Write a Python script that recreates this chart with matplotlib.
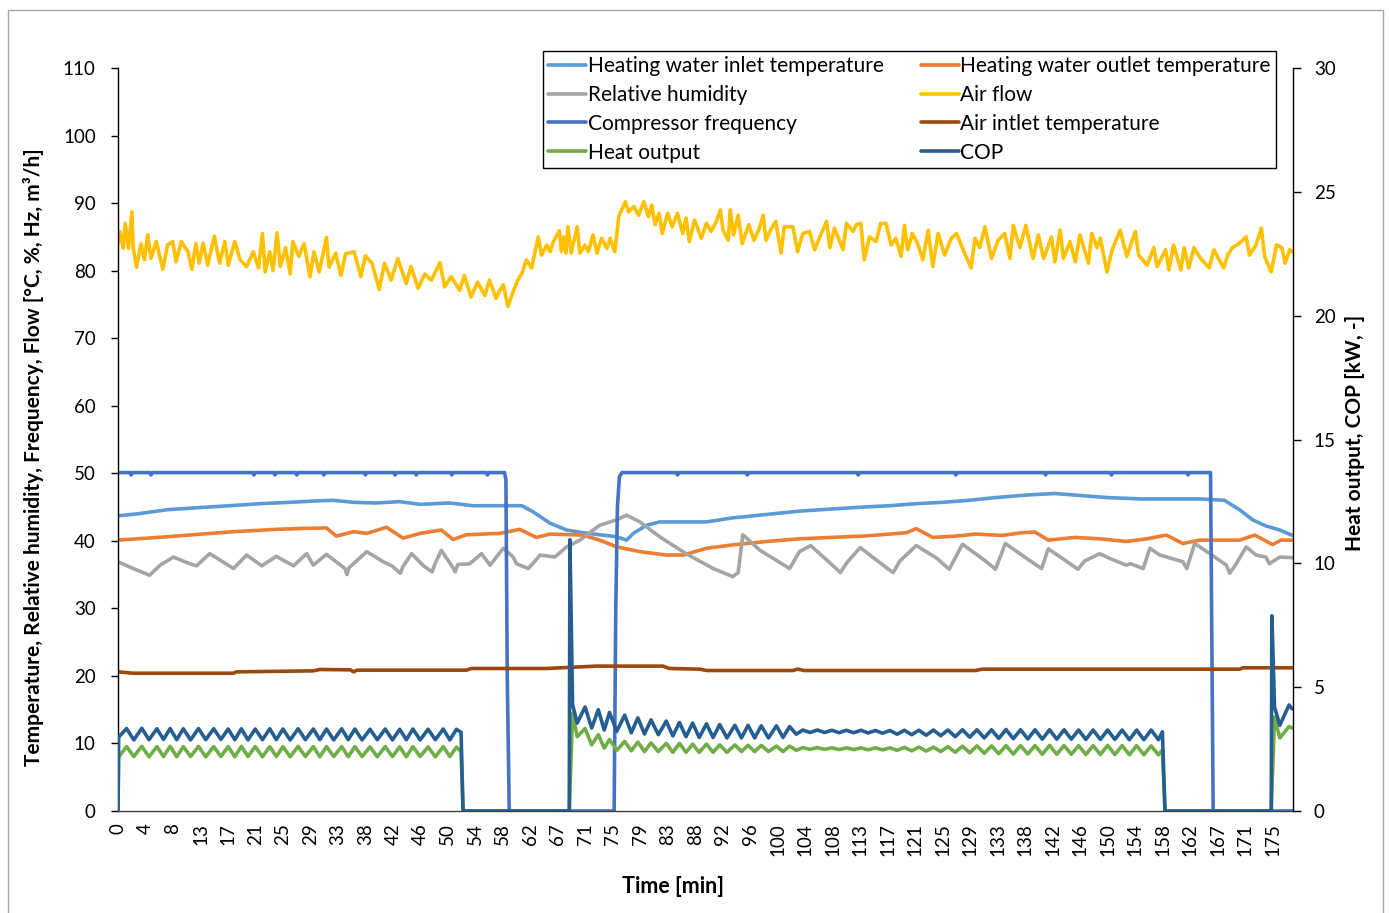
import numpy as np
import matplotlib
matplotlib.use("Agg")
import matplotlib.pyplot as plt
from matplotlib.patches import Rectangle

plt.rcParams['font.family'] = ['Lato', 'DejaVu Sans']

# ---------------- data (time in minutes) ----------------
x_tick_labels = ["0", "4", "8", "13", "17", "21", "25", "29", "33", "38", "42", "46", "50",
                 "54", "58", "62", "67", "71", "75", "79", "83", "88", "92", "96", "100",
                 "104", "108", "113", "117", "121", "125", "129", "133", "138", "142", "146",
                 "150", "154", "158", "162", "167", "171", "175"]

inlet = [(0, 43.7), (3, 44.0), (7.4, 44.6), (12, 44.9), (17, 45.2), (21.5, 45.5), (26, 45.7),
         (30, 45.9), (32.6, 46.0), (35.7, 45.7), (39, 45.6), (42.7, 45.8), (45.8, 45.4),
         (48, 45.5), (50.3, 45.6), (53.8, 45.2), (58, 45.2), (61.2, 45.2), (62.9, 44.3),
         (65.5, 42.6), (68, 41.6), (70.5, 41.2), (73, 40.9), (75.6, 40.6), (77.1, 40.1),
         (78.1, 41.1), (80.1, 42.3), (82.1, 42.8), (89.2, 42.8), (93.2, 43.4), (98.3, 43.9),
         (103.3, 44.4), (108, 44.7), (113, 45.0), (117, 45.2), (121, 45.5), (125, 45.7),
         (129, 46.0), (133, 46.4), (138, 46.8), (142, 47.0), (146, 46.7), (150, 46.4),
         (155, 46.2), (160, 46.2), (164, 46.2), (167.7, 46.0), (170, 44.6), (172, 43.1),
         (174, 42.2), (176.1, 41.6), (178, 40.8)]

outlet = [(0, 40.1), (7.4, 40.6), (17.5, 41.35), (24, 41.7), (28.6, 41.85), (31.6, 41.9),
          (33.1, 40.7), (35.7, 41.35), (37.7, 41.1), (40.7, 42.0), (43.2, 40.4), (45.8, 41.1),
          (49.0, 41.6), (50.8, 40.2), (52.8, 40.9), (57.9, 41.1), (60.9, 41.7), (63.4, 40.5),
          (65.5, 41.0), (70.5, 40.85), (73.0, 40.1), (75.6, 39.1), (79.1, 38.4), (83.1, 37.9),
          (85.7, 37.9), (89.2, 38.9), (93.2, 39.4), (98.3, 39.9), (103.3, 40.3), (108, 40.5),
          (113, 40.7), (117, 41.0), (119.5, 41.2), (121.0, 41.8), (123.5, 40.5), (127, 40.7),
          (130, 41.0), (134, 40.8), (137, 41.2), (139, 41.3), (141, 40.1), (145, 40.5),
          (148.8, 40.3), (152.8, 39.9), (156, 40.3), (158.9, 40.85), (161.4, 39.6),
          (163.9, 40.1), (170, 40.1), (172.3, 40.85), (175, 39.45), (176.3, 40.1), (178, 40.1)]

humidity = [(0, 36.9), (2.3, 35.9), (4.8, 34.9), (6.4, 36.4), (8.4, 37.6), (10.9, 36.6),
            (11.9, 36.3), (13.9, 38.1), (17.5, 35.9), (19.5, 37.9), (21.8, 36.3), (24.0, 37.7),
            (26.6, 36.3), (28.6, 38.1), (29.6, 36.4), (31.6, 38.0), (34.4, 35.9), (34.7, 35.0),
            (35.0, 36.0), (37.7, 38.4), (40.2, 36.9), (41.5, 36.3), (42.8, 35.2), (43.2, 36.2),
            (44.5, 38.1), (46.3, 36.3), (47.6, 35.4), (48.0, 36.5), (49.0, 38.6), (50.8, 36.0),
            (51.1, 35.4), (51.5, 36.5), (53.3, 36.6), (55.1, 38.1), (56.4, 36.4), (58.4, 38.9),
            (59.9, 37.6), (60.4, 36.6), (62.2, 35.9), (64.0, 37.9), (66.2, 37.6), (68.0, 39.1),
            (70.0, 40.1), (73.0, 42.3), (75.6, 43.1), (77.1, 43.8), (79.1, 42.8), (82.1, 40.6),
            (86.1, 38.1), (90.2, 35.9), (93.2, 34.7), (94.0, 35.3), (94.7, 40.9), (97.3, 38.6),
            (101.8, 35.9), (103.3, 38.4), (105.0, 39.3), (108.5, 36.2), (109.5, 35.3),
            (110.5, 36.8), (112.5, 39.0), (116.5, 36.0), (117.5, 35.3), (118.5, 37.0),
            (121.0, 39.3), (124.0, 37.5), (126.0, 35.8), (128.0, 39.5), (131.5, 37.0),
            (133.0, 35.8), (134.5, 39.6), (138.0, 37.2), (140.0, 35.9), (141.0, 38.8),
            (143.0, 37.5), (145.5, 35.8), (146.5, 37.0), (148.8, 38.1), (150.3, 37.4),
            (152.8, 36.4), (153.5, 36.6), (155.4, 35.9), (156.4, 38.9), (157.9, 37.9),
            (161.4, 36.9), (162.0, 35.9), (163.2, 39.6), (165.5, 38.1), (168.0, 36.4),
            (168.5, 35.2), (169.5, 36.6), (171.0, 39.1), (172.5, 37.9), (174.0, 37.6),
            (174.5, 36.6), (176.1, 37.6), (178.0, 37.5)]

airflow = [(0.0, 84.0), (0.3, 85.8), (0.8, 83.3), (1.1, 87.0), (1.6, 83.3), (2.1, 88.7),
           (2.3, 83.4), (2.8, 80.5), (3.5, 84.0), (4.0, 81.6), (4.5, 85.3), (5.0, 81.8),
           (5.8, 84.3), (6.8, 80.2), (7.5, 83.8), (8.3, 84.3), (8.8, 81.3), (9.6, 84.3),
           (10.6, 82.8), (11.2, 80.2), (11.8, 84.0), (12.3, 81.1), (12.9, 84.1), (13.6, 80.8),
           (14.6, 85.1), (15.4, 81.1), (16.2, 84.3), (16.7, 80.8), (17.7, 84.3), (18.5, 81.6),
           (19.5, 80.6), (20.5, 82.8), (21.3, 80.4), (21.9, 85.5), (22.3, 79.8), (23.0, 82.8),
           (23.5, 80.0), (24.1, 85.6), (24.6, 80.6), (25.4, 83.4), (26.1, 79.5), (26.5, 84.3),
           (27.4, 82.1), (28.2, 84.0), (29.1, 79.1), (29.7, 82.8), (30.5, 79.8), (31.6, 84.9),
           (32.0, 80.5), (33.0, 82.6), (33.8, 79.3), (34.5, 82.5), (35.8, 82.8), (36.8, 79.1),
           (37.5, 82.2), (38.5, 81.1), (39.6, 77.2), (40.4, 81.1), (41.4, 78.6), (42.4, 81.8),
           (43.7, 78.1), (44.4, 80.6), (45.5, 77.4), (46.5, 79.5), (47.5, 78.6), (48.8, 81.2),
           (49.5, 77.6), (50.5, 79.1), (51.8, 77.1), (52.5, 79.3), (53.5, 76.1), (54.5, 78.3),
           (55.6, 76.3), (56.3, 78.6), (57.3, 75.9), (57.9, 77.1), (58.4, 77.9), (59.1, 74.7),
           (59.6, 76.1), (60.1, 77.4), (60.6, 78.6), (61.2, 79.5), (61.9, 81.6), (62.7, 80.4),
           (63.2, 82.8), (63.7, 85.0), (64.2, 82.3), (65.0, 83.8), (65.5, 82.8), (66.0, 84.3),
           (66.9, 85.9), (67.2, 82.8), (67.6, 85.0), (67.9, 82.6), (68.2, 86.5), (68.7, 82.6),
           (69.6, 86.5), (70.0, 82.6), (70.8, 83.8), (71.3, 82.8), (72.0, 85.3), (72.6, 82.6),
           (73.3, 84.8), (74.1, 83.3), (74.6, 84.8), (75.3, 82.8), (75.9, 88.0), (76.9, 90.2),
           (77.4, 88.7), (78.2, 89.5), (78.9, 88.2), (79.7, 90.2), (80.4, 88.0), (80.9, 89.7),
           (81.4, 86.8), (82.0, 88.5), (82.5, 85.5), (83.3, 88.5), (84.0, 86.5), (84.8, 88.5),
           (85.6, 85.5), (86.1, 87.8), (86.6, 84.3), (87.4, 87.5), (88.4, 84.8), (89.2, 87.0),
           (89.9, 85.8), (90.7, 87.3), (91.3, 89.0), (91.7, 86.0), (92.5, 84.5), (92.8, 89.0),
           (93.3, 85.3), (94.0, 88.2), (94.6, 84.0), (95.6, 86.8), (96.4, 84.5), (97.1, 86.0),
           (97.8, 88.2), (98.2, 84.5), (98.9, 86.0), (99.7, 87.3), (100.5, 82.6), (101.0, 86.5),
           (102.3, 86.5), (103.0, 82.8), (103.8, 85.5), (104.8, 85.8), (105.6, 83.1),
           (106.6, 85.5), (107.4, 87.3), (107.9, 83.4), (108.6, 86.3), (109.9, 83.1),
           (110.4, 87.0), (111.4, 85.8), (111.9, 86.8), (112.6, 87.0), (113.1, 81.6),
           (113.9, 85.0), (114.9, 84.3), (115.6, 87.0), (116.4, 87.0), (117.2, 83.8),
           (117.9, 84.8), (118.7, 82.1), (119.2, 86.7), (119.7, 83.1), (120.4, 85.5),
           (121.2, 84.0), (122.0, 81.6), (122.8, 86.0), (123.5, 80.6), (124.3, 85.5),
           (125.3, 82.3), (126.3, 84.8), (127.1, 85.5), (128.1, 83.1), (129.3, 80.4),
           (129.9, 84.8), (130.6, 83.4), (131.4, 86.5), (132.4, 81.8), (133.4, 84.5),
           (134.4, 85.5), (135.2, 81.8), (135.7, 86.7), (136.7, 83.4), (137.6, 86.7),
           (138.7, 81.8), (139.5, 85.3), (140.3, 81.8), (141.5, 85.0), (142.0, 81.3),
           (142.8, 86.0), (143.3, 81.8), (144.3, 84.3), (145.1, 81.3), (145.8, 85.3),
           (147.1, 81.1), (147.6, 85.5), (148.4, 83.4), (148.9, 84.8), (149.9, 79.8),
           (150.7, 83.1), (151.9, 86.0), (152.9, 82.1), (154.2, 85.8), (154.7, 82.3),
           (156.0, 80.8), (157.0, 83.4), (157.5, 80.6), (158.8, 83.1), (159.3, 80.1),
           (160.0, 83.8), (161.1, 80.1), (161.6, 83.4), (162.3, 80.4), (163.1, 83.4),
           (164.1, 81.8), (165.4, 80.4), (166.1, 83.1), (166.9, 81.6), (167.6, 80.4),
           (168.2, 82.3), (168.9, 83.4), (169.9, 84.0), (171.0, 85.0), (171.5, 82.3),
           (172.5, 83.8), (173.3, 86.3), (173.8, 82.1), (174.8, 79.8), (175.6, 83.8),
           (176.4, 83.4), (176.9, 81.1), (177.6, 83.1), (178.0, 82.8)]

compressor = [(0, 50.1), (1.8, 50.1), (2.0, 49.75), (2.2, 50.1), (4.8, 50.1), (5.0, 49.75),
              (5.2, 50.1), (20.4, 50.1), (20.6, 49.75), (20.8, 50.1), (23.6, 50.1), (23.8, 49.75),
              (24.0, 50.1), (26.9, 50.1), (27.1, 49.75), (27.3, 50.1), (31.0, 50.1), (31.2, 49.75),
              (31.4, 50.1), (37.3, 50.1), (37.5, 49.75), (37.7, 50.1), (41.8, 50.1), (42.0, 49.75),
              (42.2, 50.1), (45.0, 50.1), (45.2, 49.75), (45.4, 50.1), (50.4, 50.1), (50.6, 49.75),
              (50.8, 50.1), (55.8, 50.1), (56.0, 49.75), (56.2, 50.1), (58.6, 50.1), (58.8, 49.0),
              (59.0, 20.0), (59.3, 0.0), (75.2, 0.0), (75.45, 30.0), (75.7, 45.0), (76.0, 49.5),
              (76.4, 50.1), (84.6, 50.1), (84.8, 49.75), (85.0, 50.1), (95.2, 50.1), (95.4, 49.75),
              (95.6, 50.1), (112.0, 50.1), (112.2, 49.75), (112.4, 50.1), (126.8, 50.1),
              (127.0, 49.75), (127.2, 50.1), (140.4, 50.1), (140.6, 49.75), (140.8, 50.1),
              (150.4, 50.1), (150.6, 49.75), (150.8, 50.1), (162.0, 50.1), (162.2, 49.75),
              (162.4, 50.1), (165.6, 50.1), (165.8, 25.0), (166.0, 0.0), (178.0, 0.0)]

air_inlet = [(0, 20.6), (2.3, 20.4), (17.5, 20.4), (18.0, 20.6), (29.6, 20.75), (30.6, 20.95),
             (35.2, 20.9), (35.7, 20.6), (36.2, 20.85), (52.8, 20.85), (53.6, 21.1), (65.0, 21.1),
             (72.5, 21.45), (82.6, 21.45), (83.6, 21.1), (88.2, 21.0), (89.2, 20.8), (102.3, 20.8),
             (103.0, 21.0), (104.0, 20.8), (130, 20.8), (131, 21.0), (170, 21.0), (170.5, 21.2),
             (178, 21.2)]

# (time, COP, heat output [kW]) on the secondary axis
performance = [(0.0, 0.0, 0.0), (0.1, 2.98, 2.18),
               (1.3, 3.33, 2.60), (2.4, 2.87, 2.20), (3.6, 3.34, 2.61), (4.7, 2.88, 2.19),
               (5.9, 3.32, 2.60), (6.9, 2.89, 2.20), (7.9, 3.33, 2.61), (8.9, 2.88, 2.19),
               (9.9, 3.32, 2.60), (11.0, 2.87, 2.20), (12.2, 3.33, 2.61), (13.3, 2.88, 2.19),
               (14.5, 3.32, 2.60), (15.6, 2.89, 2.20), (16.7, 3.31, 2.60), (17.7, 2.88, 2.19),
               (18.7, 3.32, 2.61), (19.7, 2.87, 2.20), (20.8, 3.31, 2.60), (21.9, 2.88, 2.19),
               (23.0, 3.32, 2.60), (24.0, 2.88, 2.20), (25.0, 3.31, 2.60), (26.1, 2.87, 2.19),
               (27.3, 3.32, 2.61), (28.4, 2.88, 2.20), (29.6, 3.31, 2.60), (30.6, 2.88, 2.19),
               (31.6, 3.31, 2.60), (32.7, 2.87, 2.20), (33.9, 3.32, 2.60), (34.9, 2.88, 2.19),
               (35.9, 3.31, 2.60), (37.0, 2.87, 2.20), (38.2, 3.30, 2.59), (39.3, 2.88, 2.19),
               (40.5, 3.31, 2.60), (41.6, 2.87, 2.20), (42.7, 3.30, 2.59), (43.7, 2.88, 2.19),
               (44.7, 3.31, 2.60), (45.8, 2.87, 2.20), (47.0, 3.30, 2.59), (48.1, 2.88, 2.19),
               (49.3, 3.31, 2.60), (50.3, 2.87, 2.20), (51.3, 3.30, 2.58), (52.0, 3.18, 2.40),
               (52.3, 0.0, 0.0), (68.4, 0.0, 0.0), (68.5, 10.95, 0.8), (68.9, 4.30, 3.95),
               (69.6, 3.55, 3.00), (70.8, 4.20, 3.33), (71.8, 3.35, 2.67), (72.8, 4.09, 3.08),
               (73.7, 3.27, 2.54), (74.5, 3.98, 2.89), (75.6, 3.22, 2.45), (76.8, 3.87, 2.81),
               (77.8, 3.16, 2.43), (78.8, 3.76, 2.78), (79.8, 3.11, 2.40), (80.8, 3.68, 2.75),
               (81.9, 3.08, 2.40), (83.1, 3.63, 2.73), (84.1, 3.03, 2.37), (85.1, 3.57, 2.73),
               (86.1, 3.00, 2.37), (87.1, 3.55, 2.70), (88.1, 2.97, 2.37), (89.2, 3.52, 2.70),
               (90.2, 2.97, 2.37), (91.2, 3.49, 2.67), (92.3, 2.95, 2.37), (93.5, 3.46, 2.67),
               (94.5, 2.95, 2.40), (95.5, 3.46, 2.65), (96.5, 2.95, 2.40), (97.5, 3.44, 2.65),
               (98.6, 2.95, 2.40), (99.8, 3.44, 2.62), (100.8, 2.97, 2.40), (101.8, 3.41, 2.62),
               (102.8, 3.10, 2.45), (103.8, 3.27, 2.56), (104.9, 3.17, 2.49), (106.0, 3.27, 2.56),
               (107.1, 3.17, 2.49), (108.2, 3.26, 2.55), (109.3, 3.16, 2.48), (110.4, 3.26, 2.55),
               (111.5, 3.16, 2.48), (112.6, 3.26, 2.55), (113.7, 3.15, 2.47), (114.8, 3.25, 2.55),
               (115.9, 3.14, 2.47), (117.0, 3.25, 2.55), (118.1, 3.10, 2.45), (119.2, 3.26, 2.57),
               (120.3, 3.08, 2.43), (121.4, 3.26, 2.58), (122.5, 3.06, 2.42), (123.6, 3.27, 2.58),
               (124.7, 3.04, 2.40), (125.8, 3.27, 2.60), (126.9, 3.00, 2.37), (128.0, 3.28, 2.62),
               (129.1, 2.98, 2.35), (130.2, 3.28, 2.63), (131.3, 2.95, 2.33), (132.4, 3.28, 2.63),
               (133.5, 2.93, 2.31), (134.6, 3.29, 2.64), (135.7, 2.92, 2.30), (136.8, 3.28, 2.64),
               (137.9, 2.91, 2.30), (139.0, 3.28, 2.64), (140.1, 2.90, 2.29), (141.2, 3.28, 2.65),
               (142.3, 2.90, 2.29), (143.4, 3.28, 2.64), (144.5, 2.90, 2.29), (145.6, 3.27, 2.64),
               (146.7, 2.89, 2.28), (147.8, 3.27, 2.64), (148.9, 2.89, 2.28), (150.0, 3.27, 2.65),
               (151.1, 2.89, 2.28), (152.2, 3.27, 2.64), (153.3, 2.88, 2.27), (154.4, 3.27, 2.64),
               (155.5, 2.88, 2.27), (156.6, 3.27, 2.63), (157.7, 2.88, 2.27), (158.3, 3.20, 2.46),
               (158.7, 0.0, 0.0), (174.8, 0.0, 0.0), (174.9, 7.88, 0.8), (175.3, 4.20, 3.79),
               (176.1, 3.46, 2.95), (177.5, 4.28, 3.41), (178.0, 4.12, 3.35)]

inlet_t, inlet_v = zip(*inlet)
outlet_t, outlet_v = zip(*outlet)
rh_t, rh_v = zip(*humidity)
flow_t, flow_v = zip(*airflow)
comp_t, comp_v = zip(*compressor)
airin_t, airin_v = zip(*air_inlet)
perf_t, cop_v, heat_v = zip(*performance)

# ---------------- figure ----------------
W, H = 1389, 913
fig = plt.figure(figsize=(W / 100, H / 100), dpi=100)
fig.patches.append(Rectangle((8 / W, -0.01), (1383 - 8) / W, 1 - 10 / H + 0.01,
                             transform=fig.transFigure, fill=False,
                             edgecolor='#A6A6A6', linewidth=1.0))

ax = fig.add_axes([118 / W, 1 - 811 / H, (1293 - 118) / W, (811 - 68) / H])
ax2 = ax.twinx()

lw = 2.6
kw = dict(linewidth=lw, solid_joinstyle='round', solid_capstyle='round')
h_in, = ax.plot(inlet_t, inlet_v, color='#5B9BD5', label='Heating water inlet temperature', **kw)
h_out, = ax.plot(outlet_t, outlet_v, color='#ED7D31', label='Heating water outlet temperature', **kw)
h_rh, = ax.plot(rh_t, rh_v, color='#A5A5A5', label='Relative humidity', **kw)
h_flow, = ax.plot(flow_t, flow_v, color='#FFC000', label='Air flow', **kw)
h_comp, = ax.plot(comp_t, comp_v, color='#4472C4', label='Compressor frequency', **kw)
h_air, = ax.plot(airin_t, airin_v, color='#9E480E', label='Air intlet temperature', **kw)
h_heat, = ax2.plot(perf_t, heat_v, color='#70AD47', label='Heat output', **kw)
h_cop, = ax2.plot(perf_t, cop_v, color='#255E91', label='COP', **kw)

ax.set_xlim(0, 178.1)
ax.set_ylim(0, 110)
ax2.set_ylim(0, 30)
ax.set_yticks(np.arange(0, 111, 10))
ax2.set_yticks(np.arange(0, 31, 5))
tick_pos = np.arange(len(x_tick_labels)) * 250 / 60
ax.set_xticks(tick_pos)
ax.set_xticklabels(x_tick_labels, rotation=90)

for a in (ax, ax2):
    a.spines['top'].set_visible(False)
ax.spines['right'].set_visible(False)
ax2.spines['left'].set_visible(False)
ax2.spines['bottom'].set_visible(False)
ax.spines['left'].set_color('#000000')
ax.spines['bottom'].set_color('#404040')
ax2.spines['right'].set_color('#000000')
for s in ('left', 'bottom'):
    ax.spines[s].set_linewidth(1.0)
ax2.spines['right'].set_linewidth(1.0)

ax.tick_params(axis='y', direction='out', length=5, width=1, pad=11, labelsize=13.5, colors='#000000')
ax.tick_params(axis='x', length=0, pad=9, labelsize=13.5)
ax2.tick_params(axis='y', direction='out', length=6, width=1, pad=9, labelsize=13.5)

ax.set_xlabel('Time [min]', fontsize=15.5, fontweight='bold')
ax.xaxis.set_label_coords(0.4723, -0.0875)
ax.set_ylabel('Temperature, Relative humidity, Frequency, Flow [°C, %, Hz, m³/h]',
              fontsize=15, fontweight='bold')
ax.yaxis.set_label_coords(-0.063, 0.476)
ax2.set_ylabel('Heat output, COP [kW, -]', fontsize=15, fontweight='bold')
ax2.yaxis.set_label_coords(1.0443, 0.509)

handles = [h_in, h_rh, h_comp, h_heat, h_out, h_flow, h_air, h_cop]
leg = ax2.legend(handles=handles, labels=[h.get_label() for h in handles], ncol=2,
                 loc='upper left', bbox_to_anchor=(0.3617, 0.868, 0.6238, 0.1548),
                 mode='expand', fontsize=15, frameon=True, fancybox=False,
                 edgecolor='#000000', framealpha=1, borderaxespad=0,
                 handlelength=1.83, handletextpad=0.08, labelspacing=0.42,
                 borderpad=0.25, columnspacing=1.0)
leg.get_frame().set_linewidth(1.0)

fig.savefig('out.png', dpi=100)
